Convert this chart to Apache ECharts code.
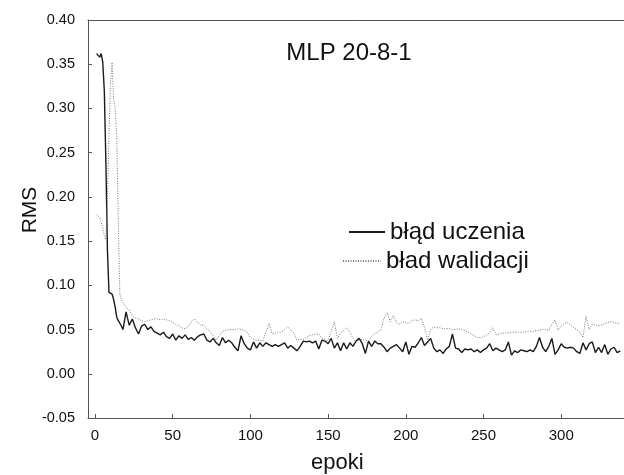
<!DOCTYPE html>
<html><head><meta charset="utf-8">
<script src="https://cdn.jsdelivr.net/npm/echarts@6/dist/echarts.min.js"></script>
<style>html,body{margin:0;padding:0;background:#fff}#c{width:624px;height:475px}</style>
</head><body><div id="c"></div>
<script>
const epochs = [1,2,3,4,5,6,7,8,9,10,11,12,13,14,15,16,17,18,19,20,
22,24,26,28,30,32,34,36,38,40,42,44,46,48,50,52,54,56,58,60,62,64,66,68,
70,72,74,76,78,80,82,84,86,88,90,92,94,96,98,100,102,104,106,108,110,112,114,116,118,120,122,124,126,
128,130,132,134,136,138,140,142,144,146,148,150,152,154,156,158,160,162,164,166,168,170,172,174,176,178,180,182,
184,186,188,190,192,194,196,198,200,202,204,206,208,210,212,214,216,218,220,222,224,226,228,230,232,234,236,238,240,
242,244,246,248,250,252,254,256,258,260,262,264,266,268,270,272,274,276,278,280,282,284,286,288,290,292,294,296,298,
300,302,304,306,308,310,312,314,316,318,320,322,324,326,328,330,332,334,336,338];

const trainRMS = [0.362,0.363,0.358,0.362,0.352,0.320,0.240,0.140,0.092,0.091,0.090,0.084,0.075,0.064,0.060,0.058,0.054,0.050,0.052,0.070,
0.055,0.062,0.052,0.045,0.054,0.056,0.050,0.053,0.048,0.046,0.044,0.047,0.042,0.040,0.045,0.038,0.043,0.040,0.044,0.039,0.041,0.038,0.042,0.044,
0.045,0.038,0.036,0.040,0.035,0.032,0.041,0.035,0.038,0.035,0.030,0.026,0.043,0.034,0.029,0.027,0.036,0.029,0.035,0.031,0.035,0.033,0.031,0.033,0.031,0.033,0.035,0.029,0.032,
0.029,0.026,0.031,0.037,0.036,0.037,0.035,0.037,0.028,0.038,0.037,0.034,0.040,0.029,0.035,0.026,0.035,0.028,0.035,0.031,0.037,0.040,0.034,0.023,0.037,0.031,0.037,0.034,
0.034,0.030,0.025,0.029,0.031,0.033,0.029,0.025,0.036,0.022,0.031,0.030,0.035,0.041,0.032,0.036,0.040,0.029,0.025,0.027,0.023,0.028,0.031,0.045,0.029,0.028,0.024,0.028,0.027,
0.028,0.025,0.027,0.024,0.027,0.029,0.034,0.026,0.029,0.027,0.025,0.027,0.036,0.021,0.026,0.024,0.027,0.026,0.025,0.027,0.025,0.031,0.041,0.030,0.025,0.031,0.040,0.022,0.027,
0.034,0.030,0.029,0.030,0.029,0.025,0.023,0.035,0.027,0.034,0.036,0.024,0.030,0.024,0.033,0.022,0.028,0.030,0.024,0.026];

const validRMS = [0.180,0.179,0.177,0.175,0.165,0.156,0.152,0.200,0.270,0.330,0.352,0.310,0.300,0.270,0.170,0.090,0.084,0.082,0.078,0.075,
0.072,0.066,0.063,0.062,0.060,0.059,0.060,0.061,0.062,0.062,0.061,0.062,0.061,0.060,0.058,0.056,0.054,0.052,0.051,0.053,0.059,0.062,0.058,0.055,
0.055,0.051,0.048,0.043,0.038,0.043,0.048,0.049,0.050,0.050,0.050,0.051,0.050,0.049,0.047,0.041,0.039,0.038,0.038,0.037,0.047,0.057,0.045,0.046,0.047,0.047,0.050,0.053,0.050,
0.046,0.038,0.039,0.039,0.041,0.043,0.044,0.045,0.045,0.040,0.038,0.038,0.048,0.059,0.040,0.046,0.049,0.052,0.047,0.040,0.036,0.038,0.039,0.038,0.037,0.042,0.046,0.047,
0.050,0.063,0.069,0.059,0.066,0.058,0.056,0.059,0.058,0.057,0.060,0.061,0.060,0.063,0.052,0.038,0.050,0.053,0.052,0.052,0.051,0.051,0.051,0.050,0.050,0.051,0.050,0.049,0.047,
0.045,0.043,0.041,0.041,0.042,0.044,0.046,0.052,0.044,0.045,0.046,0.046,0.046,0.047,0.047,0.047,0.047,0.047,0.048,0.048,0.048,0.049,0.049,0.050,0.050,0.049,0.056,0.061,0.049,
0.054,0.057,0.058,0.055,0.052,0.050,0.047,0.041,0.065,0.050,0.056,0.055,0.054,0.055,0.057,0.058,0.059,0.058,0.057,0.057];

const xTicks = [0,50,100,150,200,250,300];
const seriesNames = ['błąd uczenia','bład walidacji'];
const titleText = 'MLP 20-8-1';
const xName = 'epoki';
const yName = 'RMS';

const chart = echarts.init(document.getElementById('c'), null, {renderer:'canvas'});
const FONT = 'Liberation Sans, Arial, sans-serif';
const axisColor = '#555';
const legendCommon = {padding:0, itemHeight:14, itemGap:0, itemStyle:{opacity:0},
  textStyle:{fontFamily:FONT, fontSize:24, color:'#111'}};
chart.setOption({
  animation:false,
  backgroundColor:'#fff',
  grid:{left:88, right:0, top:20, bottom:57, containLabel:false},
  title:{text:titleText, left:349, top:41, textAlign:'center', padding:0,
    textStyle:{fontFamily:FONT, fontSize:24, fontWeight:'normal', color:'#111'}},
  legend:[
    Object.assign({data:[seriesNames[0]], left:348, top:220, itemWidth:36}, legendCommon),
    Object.assign({data:[seriesNames[1]], left:342, top:249, itemWidth:38}, legendCommon)
  ],
  xAxis:[{
    type:'value', min:-4.5, max:340.4, position:'bottom',
    axisLine:{show:true, onZero:false, lineStyle:{color:axisColor, width:1}},
    axisTick:{show:true, inside:true, length:4, customValues:xTicks, lineStyle:{color:axisColor}},
    axisLabel:{customValues:xTicks, margin:10, fontFamily:FONT, fontSize:15, color:'#111'},
    splitLine:{show:false}
  },{
    type:'value', min:-4.5, max:340.4, position:'top',
    axisLine:{show:true, onZero:false, lineStyle:{color:axisColor, width:1}},
    axisTick:{show:false}, axisLabel:{show:false}, splitLine:{show:false}
  }],
  yAxis:{
    type:'value', min:-0.05, max:0.40, interval:0.05,
    axisLine:{show:true, onZero:false, lineStyle:{color:axisColor, width:1}},
    axisTick:{show:true, inside:true, length:4, lineStyle:{color:axisColor}},
    axisLabel:{margin:13, fontFamily:FONT, fontSize:14.5, color:'#111',
      formatter:v=>v.toFixed(2)},
    splitLine:{show:false}
  },
  graphic:[
    {type:'text', left:338-27, top:452, style:{text:xName, font:'22px '+FONT, fill:'#111'}},
    {type:'text', x:30, y:210, rotation:Math.PI/2, style:{text:yName, font:'21px '+FONT, fill:'#111', align:'center', verticalAlign:'middle'}}
  ],
  series:[
    {name:seriesNames[0], type:'line', xAxisIndex:0, showSymbol:false, symbol:'none',
     data:epochs.map((e,i)=>[e,trainRMS[i]]),
     lineStyle:{color:'#1a1a1a', width:1.4}, itemStyle:{color:'#1a1a1a'}},
    {name:seriesNames[1], type:'line', xAxisIndex:0, showSymbol:false, symbol:'none',
     data:epochs.map((e,i)=>[e,validRMS[i]]),
     lineStyle:{color:'#777', width:1, type:[1,1.5]}, itemStyle:{color:'#777'}}
  ]
});
</script></body></html>
